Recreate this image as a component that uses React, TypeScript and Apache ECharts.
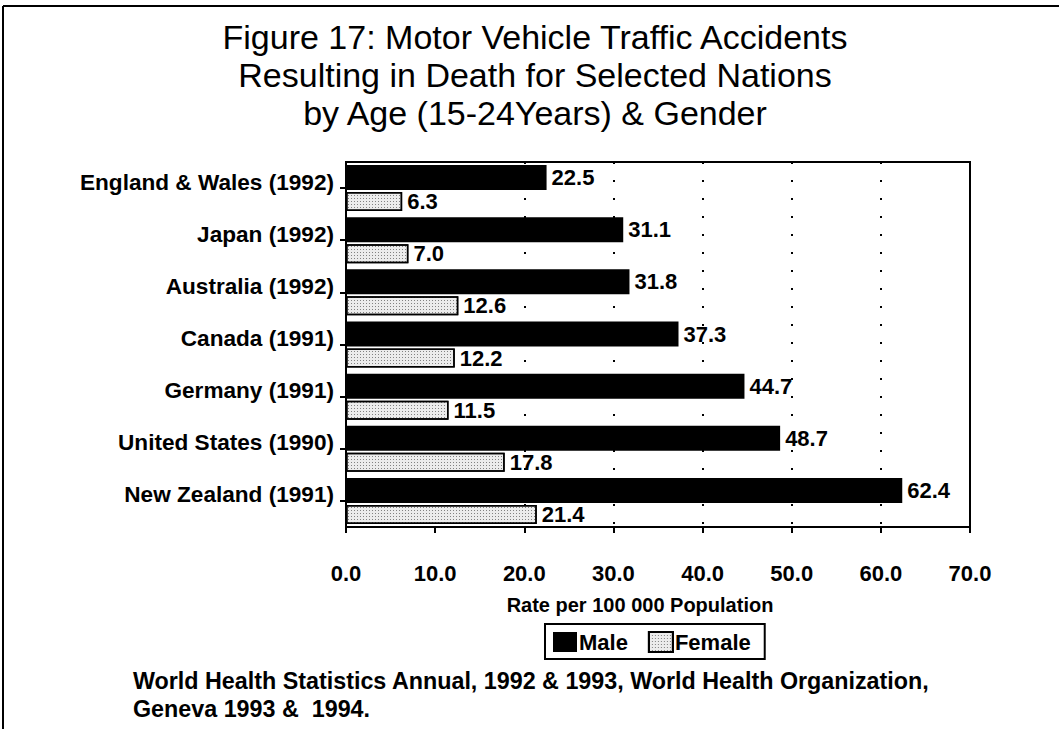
import React, { useEffect, useRef } from "react";
import * as echarts from "echarts";

const titleLines = [
  "Figure 17: Motor Vehicle Traffic Accidents",
  "Resulting in Death for Selected Nations",
  "by Age (15-24Years) & Gender",
];
const categories = [
  "England & Wales (1992)",
  "Japan (1992)",
  "Australia (1992)",
  "Canada (1991)",
  "Germany (1991)",
  "United States (1990)",
  "New Zealand (1991)",
];
const maleValues = [22.5, 31.1, 31.8, 37.3, 44.7, 48.7, 62.4];
const femaleValues = [6.3, 7.0, 12.6, 12.2, 11.5, 17.8, 21.4];
const seriesNames = ["Male", "Female"];
const xAxisName = "Rate per 100 000 Population";
const xMin = 0;
const xMax = 70;
const xInterval = 10;
const gridValues = [20, 30, 40, 50, 60];
const sourceLines = [
  "World Health Statistics Annual, 1992 & 1993, World Health Organization,",
  "Geneva 1993 &  1994.",
];

const FONT = "'Liberation Sans', Arial, Helvetica, sans-serif";

export default function App() {
  const ref = useRef<HTMLDivElement>(null);
  useEffect(() => {
    if (!ref.current) return;
    const chart = echarts.init(ref.current, undefined, { renderer: "svg" });
    const labelStyle = {
      show: true,
      position: "right" as const,
      distance: 5,
      color: "#000",
      fontFamily: FONT,
      fontWeight: "bold" as const,
      fontSize: 22,
      formatter: (p: any) => Number(p.value).toFixed(1),
    };
    chart.setOption({
      animation: false,
      backgroundColor: "#fff",
      textStyle: { fontFamily: FONT, color: "#000" },
      grid: { left: 346, right: 89, top: 162, bottom: 202, show: true, borderColor: "#000", borderWidth: 2 },
      legend: {
        data: seriesNames,
        left: 545,
        top: 624,
        orient: "horizontal",
        icon: "rect",
        borderColor: "#000",
        borderWidth: 2,
        padding: [7, 14, 6, 8],
        itemWidth: 24,
        itemHeight: 20,
        itemGap: 20,
        textStyle: { fontFamily: FONT, fontWeight: "bold", fontSize: 22, color: "#000", padding: [0, 0, 0, -3] },
      },
      xAxis: {
        type: "value",
        min: xMin,
        max: xMax,
        interval: xInterval,
        name: xAxisName,
        nameLocation: "middle",
        nameGap: 68,
        nameTextStyle: { fontFamily: FONT, fontWeight: "bold", fontSize: 20, color: "#000", padding: [0, 36, 0, 0] },
        axisLine: { show: true, lineStyle: { color: "#000", width: 2 } },
        axisTick: { show: true, length: 6, lineStyle: { color: "#000", width: 2 } },
        axisLabel: {
          color: "#000",
          fontFamily: FONT,
          fontWeight: "bold",
          fontSize: 22,
          margin: 35,
          formatter: (v: number) => v.toFixed(1),
        },
        splitLine: { show: false },
      },
      yAxis: {
        type: "category",
        data: categories,
        inverse: true,
        axisLine: { show: true, lineStyle: { color: "#000", width: 2 } },
        axisTick: { show: true, alignWithLabel: true, length: 6, lineStyle: { color: "#000", width: 2 } },
        axisLabel: {
          margin: 12,
          formatter: (v: string) => `{c|${v}}`,
          rich: {
            c: {
              color: "#000",
              fontFamily: FONT,
              fontWeight: "bold",
              fontSize: 22.6,
              padding: [0, 0, 12, 0],
            },
          },
        },
      },
      series: [
        {
          name: seriesNames[0],
          type: "bar",
          data: maleValues,
          barWidth: 25,
          barGap: "8%",
          z: 3,
          itemStyle: { color: "#000" },
          label: labelStyle,
          markLine: {
            silent: true,
            z: 1,
            symbol: ["none", "none"],
            label: { show: false },
            lineStyle: { color: "#000", width: 2, type: [2, 16] },
            data: gridValues.map((v) => ({ xAxis: v })),
          },
        },
        {
          name: seriesNames[1],
          type: "bar",
          data: femaleValues,
          barWidth: 19,
          barGap: "8%",
          z: 3,
          itemStyle: {
            color: "#ececec",
            borderColor: "#000",
            borderWidth: 1.5,
            decal: {
              symbol: "rect",
              symbolSize: 1,
              dashArrayX: [1, 2],
              dashArrayY: [1, 2],
              color: "rgba(0,0,0,0.45)",
            },
          },
          label: labelStyle,
        },
      ],
      graphic: [
        { type: "line", shape: { x1: 3, y1: 6, x2: 1059, y2: 6 }, style: { stroke: "#000", lineWidth: 2 } },
        { type: "line", shape: { x1: 3, y1: 6, x2: 3, y2: 729 }, style: { stroke: "#000", lineWidth: 2 } },
        {
          type: "text",
          x: 535,
          y: 18,
          style: {
            text: titleLines.join("\n"),
            font: `34px ${FONT}`,
            lineHeight: 38,
            textAlign: "center",
            fill: "#000",
          },
        },
        {
          type: "text",
          x: 133,
          y: 667,
          style: {
            text: sourceLines.join("\n"),
            font: `bold 23.3px ${FONT}`,
            lineHeight: 28,
            fill: "#000",
          },
        },
      ],
    });
    return () => chart.dispose();
  }, []);
  return <div ref={ref} style={{ position: "fixed", left: 0, top: 0, width: 1059, height: 729 }} />;
}
